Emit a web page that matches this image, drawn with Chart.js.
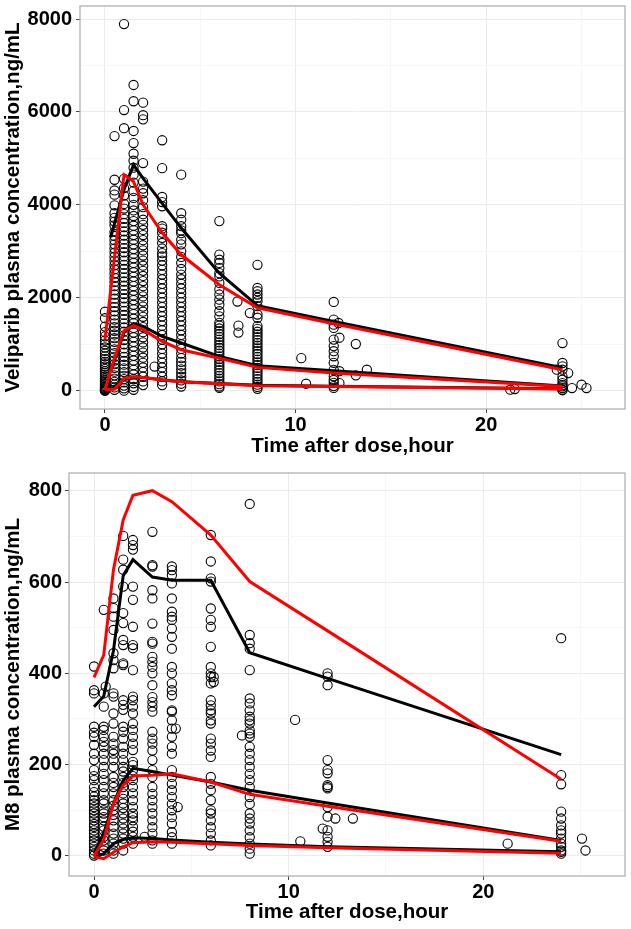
<!DOCTYPE html>
<html>
<head>
<meta charset="utf-8">
<script src="https://cdn.jsdelivr.net/npm/chart.js@4.4.1/dist/chart.umd.min.js"></script>
<style>
html, body { margin: 0; padding: 0; background: #fff; }
#wrap { position: relative; width: 631px; height: 929px; }
canvas { position: absolute; left: 0; }
#velChart { top: 0; }
#m8Chart { top: 460px; }
</style>
</head>
<body>
<div id="wrap">
<canvas id="velChart" width="631" height="460"></canvas>
<canvas id="m8Chart" width="631" height="469"></canvas>
</div>
<script>
// ---- axes ----
const xGrid = [0, 5, 10, 15, 20, 25]
const xLabelled = [0, 10, 20]
const velYGrid = [0, 1000, 2000, 3000, 4000, 5000, 6000, 7000, 8000]
const velYLabelled = [0, 2000, 4000, 6000, 8000]
const m8YGrid = [0, 100, 200, 300, 400, 500, 600, 700, 800]
const m8YLabelled = [0, 200, 400, 600, 800]

// ---- veliparib observations (nominal time columns) ----
const velObsT = [0, 0.5, 1, 1.5, 2, 3, 4, 6, 8, 12, 24]
const velC0 = [0, 0, 10, 25, 40, 60, 80, 100, 130, 160, 190, 220, 260, 300, 340, 380, 420, 470, 520, 570, 620, 680, 740, 800, 860, 930, 1000, 1080, 1170, 1260, 1380, 1560, 1700]
const velC05 = [5480, 4540, 4310, 4220, 3990, 3820, 3720, 3640, 3560, 3420, 3330, 3240, 3150, 3060, 2970, 2880, 2790, 2700, 2610, 2520, 2430, 2340, 2250, 2160, 2070, 1980, 1890, 1800, 1710, 1620, 1530, 1450, 1370, 1290, 1210, 1130, 1050, 970, 890, 810, 730, 650, 570, 490, 410, 330, 260, 190, 130, 70, 20]
const velC1 = [7890, 6040, 5650, 4560, 4360, 4200, 4020, 3920, 3800, 3700, 3610, 3520, 3430, 3340, 3250, 3160, 3070, 2980, 2890, 2800, 2710, 2620, 2530, 2440, 2350, 2260, 2170, 2080, 1990, 1900, 1810, 1720, 1630, 1540, 1450, 1360, 1270, 1180, 1090, 1000, 910, 820, 730, 640, 560, 480, 400, 320, 250, 180, 110, 50, 0]
const velC15 = [6580, 6230, 5590, 5330, 5100, 4950, 4800, 4650, 4480, 4300, 4150, 4000, 3880, 3760, 3650, 3550, 3450, 3350, 3250, 3150, 3050, 2950, 2850, 2750, 2650, 2550, 2450, 2350, 2250, 2150, 2050, 1950, 1850, 1750, 1650, 1550, 1450, 1350, 1250, 1150, 1050, 950, 850, 750, 650, 550, 450, 350, 250, 160, 80, 20]
const velC2 = [6200, 5930, 5840, 4900, 4500, 4350, 4250, 4100, 3950, 3800, 3680, 3570, 3460, 3350, 3240, 3130, 3020, 2910, 2800, 2690, 2580, 2470, 2360, 2250, 2140, 2030, 1920, 1810, 1700, 1590, 1480, 1370, 1260, 1150, 1040, 930, 820, 710, 600, 500, 400, 300, 200, 120]
const velC3 = [5390, 4790, 4170, 4060, 3970, 3540, 3490, 3400, 3290, 3180, 3060, 2960, 2890, 2800, 2700, 2600, 2500, 2400, 2300, 2200, 2100, 2000, 1900, 1800, 1700, 1600, 1500, 1400, 1300, 1200, 1100, 1000, 900, 800, 700, 600, 500, 400, 300, 200, 120]
const velC4 = [4650, 3820, 3680, 3540, 3450, 3390, 3250, 3150, 3000, 2880, 2750, 2620, 2500, 2400, 2300, 2200, 2100, 2000, 1900, 1800, 1700, 1600, 1500, 1400, 1300, 1200, 1100, 1000, 900, 800, 700, 620, 540, 460, 380, 300, 220, 150, 90]
const velC6 = [3650, 2930, 2820, 2750, 2640, 2530, 2460, 2320, 2180, 2070, 1960, 1850, 1710, 1600, 1460, 1400, 1340, 1280, 1220, 1160, 1100, 1040, 980, 920, 860, 800, 740, 680, 620, 560, 500, 440, 380, 320, 260, 200, 140, 90, 60]
const velC8 = [2710, 2210, 2140, 2070, 2000, 1930, 1820, 1640, 1570, 1390, 1330, 1270, 1210, 1150, 1090, 1030, 970, 910, 850, 790, 730, 670, 610, 550, 490, 430, 370, 310, 250, 190, 130, 80, 40]
const velC12 = [1910, 1530, 1420, 1350, 1100, 960, 850, 740, 600, 450, 310, 230, 170, 100, 60]
const velC24 = [1026, 596, 524, 452, 308, 237, 165, 120, 93, 57, 21, 10]
const velExtraT = [2.6, 6.95, 7.0, 7.0, 7.6, 10.3, 10.55, 12.25, 12.3, 12.3, 12.3, 13.16, 13.16, 13.74, 21.26, 21.5, 23.7, 24.3, 24.5, 25.0, 25.26]
const velExtraC = [520, 1920, 1400, 1250, 1670, 700, 150, 1457, 1140, 420, 165, 1005, 330, 452, 21, 36, 452, 380, 57, 129, 57]

// ---- veliparib percentile lines: observed (black) and predicted (red) ----
const velObsLineT = [0.3, 1, 1.5, 2, 3, 4, 6, 8, 12, 24]
const velObsP95 = [3300, 4330, 4860, 4570, 4030, 3500, 2530, 1830, 1490, 495]
const velObsP50 = [420, 1250, 1442, 1384, 1170, 1026, 739, 538, 430, 100]
const velObsP05 = [20, 240, 290, 285, 235, 195, 155, 115, 95, 40]
const velPredLineT = [0, 0.5, 1, 1.5, 2, 3, 4, 6, 8, 12, 24]
const velPredP95 = [1100, 2870, 4650, 4500, 4000, 3400, 2925, 2280, 1785, 1440, 450]
const velPredP50 = [20, 700, 1290, 1399, 1313, 1062, 882, 700, 502, 380, 90]
const velPredP05 = [20, 30, 260, 300, 285, 230, 190, 150, 108, 90, 36]

// ---- M8 observations ----
const m8ObsT = [0, 0.5, 1, 1.5, 2, 3, 4, 6, 8, 12, 24]
const m8C0 = [415, 363, 356, 283, 270, 261, 243, 224, 210, 188, 175, 166, 151, 140, 130, 122, 115, 107, 100, 93, 85, 78, 70, 64, 56, 49, 42, 34, 27, 20, 12, 5, 1]
const m8C05 = [539, 356, 327, 283, 276, 261, 250, 239, 224, 210, 195, 180, 166, 151, 137, 122, 115, 100, 93, 85, 78, 64, 56, 42, 34, 20, 12, 5]
const m8C1 = [564, 543, 524, 495, 444, 429, 411, 356, 349, 312, 290, 261, 246, 232, 224, 210, 195, 173, 160, 151, 137, 122, 110, 100, 90, 78, 64, 49, 38, 27, 12, 5]
const m8C15 = [701, 649, 627, 590, 532, 510, 473, 462, 422, 418, 341, 331, 320, 283, 272, 257, 239, 224, 210, 195, 185, 173, 160, 151, 137, 125, 115, 105, 93, 82, 71, 60, 49, 38, 27, 12]
const m8C2 = [692, 681, 671, 590, 561, 502, 462, 455, 407, 349, 341, 327, 312, 290, 276, 261, 246, 232, 206, 199, 188, 175, 166, 151, 137, 122, 107, 93, 85, 78, 64, 53, 42, 27]
const m8C3 = [710, 637, 634, 582, 564, 509, 469, 465, 436, 425, 414, 400, 374, 348, 337, 327, 316, 272, 257, 246, 231, 210, 188, 173, 151, 136, 122, 107, 93, 78, 63, 49, 34, 27]
const m8C4 = [634, 626, 615, 597, 564, 535, 524, 517, 498, 480, 454, 414, 400, 378, 363, 352, 319, 316, 297, 279, 261, 239, 224, 188, 173, 158, 144, 129, 114, 100, 85, 71, 52, 41, 27]
const m8C6 = [703, 645, 608, 601, 542, 517, 502, 458, 414, 400, 392, 378, 341, 330, 319, 312, 297, 290, 257, 246, 231, 217, 173, 158, 144, 122, 100, 93, 78, 63, 49, 34, 23]
const m8C8 = [771, 484, 466, 454, 407, 345, 334, 319, 305, 297, 290, 275, 268, 261, 239, 224, 210, 195, 180, 166, 151, 129, 114, 93, 82, 71, 56, 41, 27, 16, 5]
const m8C12 = [400, 393, 374, 210, 188, 181, 155, 151, 148, 107, 86, 56, 42, 31, 20]
const m8C24 = [477, 177, 157, 97, 82, 67, 56, 49, 38, 27, 20, 12, 9, 5]
const m8ExtraT = [0.6, 2.6, 4.2, 4.3, 6.15, 6.15, 7.6, 10.33, 10.6, 11.75, 12.4, 13.3, 21.25, 25.07, 25.25]
const m8ExtraC = [371, 42, 279, 107, 392, 381, 264, 298, 32, 60, 82, 82, 27, 38, 12]

// ---- M8 percentile lines ----
const m8LineT = [0, 0.5, 1, 1.5, 2, 3, 4, 6, 8, 12, 24]
const m8ObsP95 = [327, 350, 450, 614, 649, 611, 604, 604, 445, 389, 222]
const m8ObsP50 = [5, 50, 115, 165, 192, 185, 177, 162, 144, 116, 34]
const m8ObsP05 = [-3, 5, 27, 36, 40, 38, 35, 30, 26, 20, 9]
const m8PredP95 = [391, 440, 627, 736, 790, 800, 776, 703, 601, 493, 168]
const m8PredP50 = [0, 35, 115, 155, 175, 177, 180, 162, 135, 109, 32]
const m8PredP05 = [-2, -6, 8, 20, 29, 31, 30, 27, 23, 18, 6]

const FONT = "'Liberation Sans', Arial, sans-serif"
const MAJOR = '#EBEBEB'
const MINOR = '#F7F7F7'

function columnPoints(times, cols) {
    const pts = []
    times.forEach((t, i) => cols[i].forEach(v => pts.push({x: t, y: v})))
    return pts
}

function pairPoints(xs, ys) {
    return xs.map((x, i) => ({x: x, y: ys[i]}))
}

function lineSet(xs, ys, color, order) {
    return {
        data: pairPoints(xs, ys),
        showLine: true,
        borderColor: color,
        borderWidth: 3,
        pointRadius: 0,
        tension: 0,
        fill: false,
        order: order,
    }
}

// panel border like ggplot theme_bw
const panelBorder = {
    id: 'panelBorder',
    afterDraw(chart) {
        const {ctx, chartArea: a} = chart
        ctx.save()
        ctx.strokeStyle = '#ABABAB'
        ctx.lineWidth = 1.2
        ctx.strokeRect(a.left, a.top, a.right - a.left, a.bottom - a.top)
        ctx.restore()
    }
}

function makePanel(id, p) {
    const bold = {family: FONT, size: 20, weight: 'bold'}
    const titleFont = {family: FONT, size: 20.5, weight: 'bold'}
    return new Chart(document.getElementById(id), {
        type: 'scatter',
        data: {
            datasets: [
                {
                    data: p.points,
                    pointStyle: 'circle',
                    pointRadius: 4.6,
                    borderWidth: 1.1,
                    borderColor: '#000',
                    backgroundColor: 'rgba(0,0,0,0)',
                    order: 3,
                },
                lineSet(p.obsT, p.obs95, '#000', 2),
                lineSet(p.obsT, p.obs50, '#000', 2),
                lineSet(p.obsT, p.obs05, '#000', 2),
                lineSet(p.predT, p.pred95, '#FF0000', 1),
                lineSet(p.predT, p.pred50, '#FF0000', 1),
                lineSet(p.predT, p.pred05, '#FF0000', 1),
            ]
        },
        options: {
            responsive: false,
            animation: false,
            devicePixelRatio: 1,
            layout: {padding: {top: p.padTop, right: 6, left: 0, bottom: 0}},
            plugins: {legend: {display: false}, tooltip: {enabled: false}},
            scales: {
                x: {
                    type: 'linear',
                    min: p.xMin,
                    max: p.xMax,
                    afterBuildTicks: s => { s.ticks = xGrid.map(v => ({value: v})) },
                    afterFit: s => { s.height = p.xAxisH; s.paddingLeft = 0; s.paddingRight = 0 },
                    ticks: {
                        autoSkip: false, maxRotation: 0, minRotation: 0, padding: 0,
                        color: '#000', font: bold,
                        callback: v => xLabelled.includes(v) ? String(v) : ''
                    },
                    grid: {
                        color: c => xLabelled.includes(c.tick.value) ? MAJOR : MINOR,
                        tickColor: c => xLabelled.includes(c.tick.value) ? '#444' : 'rgba(0,0,0,0)',
                        tickLength: 4,
                        lineWidth: 1,
                    },
                    border: {display: false},
                    title: {
                        display: true, text: 'Time after dose,hour', color: '#000', font: titleFont,
                        padding: {top: 0, bottom: p.xTitlePad}
                    }
                },
                y: {
                    type: 'linear',
                    min: p.yMin,
                    max: p.yMax,
                    afterBuildTicks: s => { s.ticks = p.yGrid.map(v => ({value: v})) },
                    afterFit: s => { s.width = p.yAxisW; s.paddingTop = 0; s.paddingBottom = 0 },
                    ticks: {
                        autoSkip: false, padding: p.yTickPad,
                        color: '#000', font: bold,
                        callback: v => p.yLabelled.includes(v) ? String(v) : ''
                    },
                    grid: {
                        color: c => p.yLabelled.includes(c.tick.value) ? MAJOR : MINOR,
                        tickColor: c => p.yLabelled.includes(c.tick.value) ? '#444' : 'rgba(0,0,0,0)',
                        tickLength: 4,
                        lineWidth: 1,
                    },
                    border: {display: false},
                    title: {
                        display: true, text: p.yTitle, color: '#000', font: titleFont,
                        padding: {top: 1, bottom: 0}
                    }
                }
            }
        },
        plugins: [panelBorder]
    })
}

makePanel('velChart', {
    points: columnPoints(velObsT, [velC0, velC05, velC1, velC15, velC2, velC3, velC4, velC6, velC8, velC12, velC24])
        .concat(pairPoints(velExtraT, velExtraC)),
    obsT: velObsLineT, obs95: velObsP95, obs50: velObsP50, obs05: velObsP05,
    predT: velPredLineT, pred95: velPredP95, pred50: velPredP50, pred05: velPredP05,
    xMin: -1.31, xMax: 27.28, yMin: -394, yMax: 8280,
    yGrid: velYGrid, yLabelled: velYLabelled,
    yTitle: 'Veliparib plasma concentration,ng/mL',
    padTop: 6, xAxisH: 51, yAxisW: 80, yTickPad: 4, xTitlePad: 1.5,
})

makePanel('m8Chart', {
    points: columnPoints(m8ObsT, [m8C0, m8C05, m8C1, m8C15, m8C2, m8C3, m8C4, m8C6, m8C8, m8C12, m8C24])
        .concat(pairPoints(m8ExtraT, m8ExtraC)),
    obsT: m8LineT, obs95: m8ObsP95, obs50: m8ObsP50, obs05: m8ObsP05,
    predT: m8LineT, pred95: m8PredP95, pred50: m8PredP50, pred05: m8PredP05,
    xMin: -1.285, xMax: 27.28, yMin: -43.9, yMax: 838.8,
    yGrid: m8YGrid, yLabelled: m8YLabelled,
    yTitle: 'M8 plasma concentration,ng/mL',
    padTop: 13, xAxisH: 53, yAxisW: 69, yTickPad: 3, xTitlePad: 4,
})
</script>
</body>
</html>
